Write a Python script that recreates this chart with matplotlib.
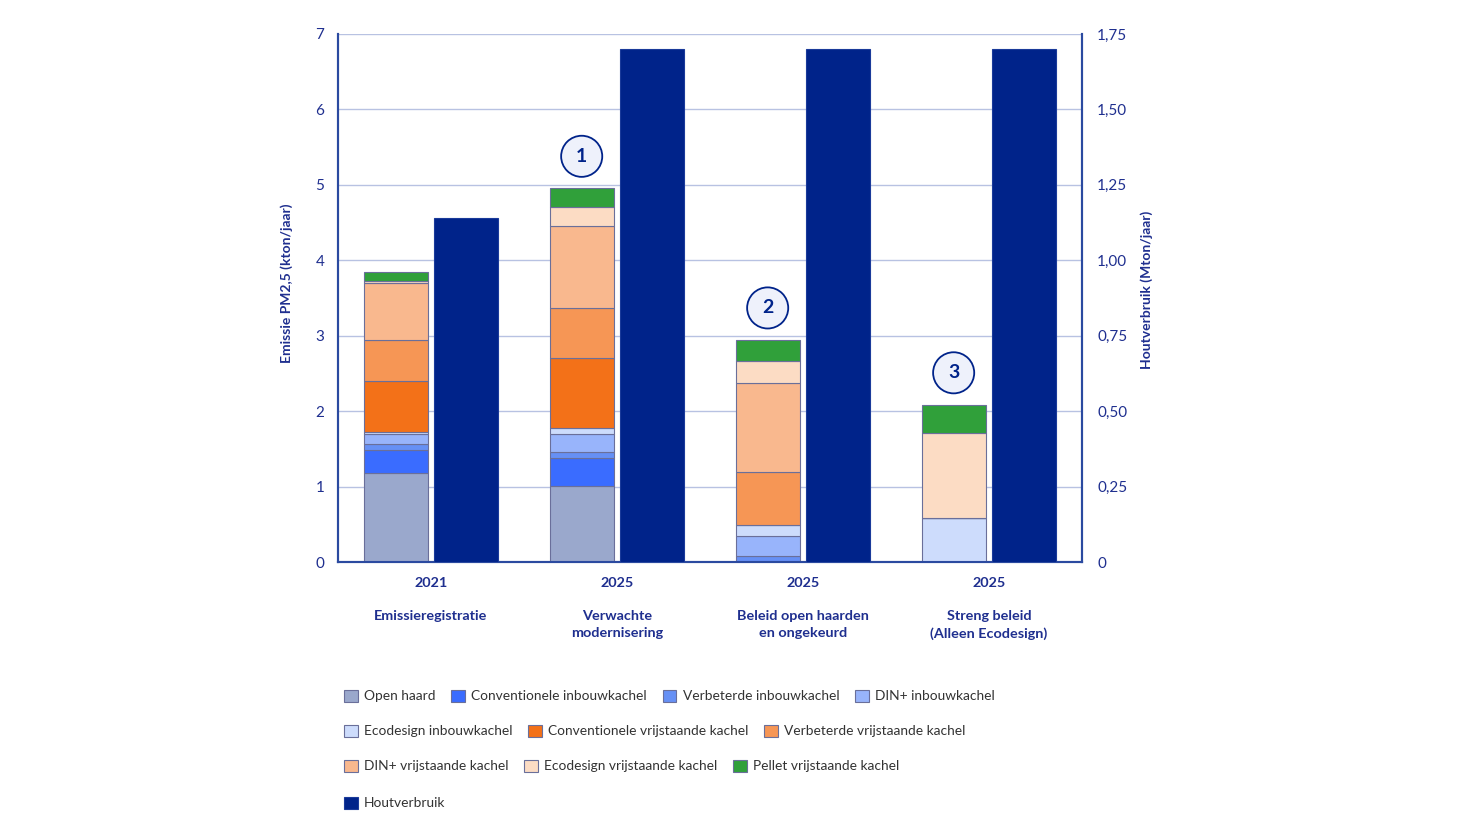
import numpy as np
import matplotlib.pyplot as plt

# scenario labels
years = ["2021", "2025", "2025", "2025"]
scenarios = ["Emissieregistratie", "Verwachte\nmodernisering",
             "Beleid open haarden\nen ongekeurd", "Streng beleid\n(Alleen Ecodesign)"]

# PM2,5 emissions per stove type (kton/jaar)
open_haard = [1.18, 1.01, 0.0, 0.0]
conv_inbouw = [0.31, 0.37, 0.0, 0.0]
verb_inbouw = [0.07, 0.075, 0.08, 0.0]
din_inbouw = [0.14, 0.24, 0.26, 0.0]
eco_inbouw = [0.02, 0.08, 0.145, 0.58]
conv_vrij = [0.68, 0.93, 0.0, 0.0]
verb_vrij = [0.54, 0.66, 0.71, 0.0]
din_vrij = [0.76, 1.09, 1.18, 0.0]
eco_vrij = [0.02, 0.25, 0.29, 1.125]
pellet_vrij = [0.12, 0.25, 0.28, 0.38]

# wood consumption (Mton/jaar)
houtverbruik = [1.14, 1.70, 1.70, 1.70]

markers = [None, "1", "2", "3"]

series = [
    ("Open haard", open_haard, "#9aa8cc"),
    ("Conventionele inbouwkachel", conv_inbouw, "#3a6cff"),
    ("Verbeterde inbouwkachel", verb_inbouw, "#6690f5"),
    ("DIN+ inbouwkachel", din_inbouw, "#98b4fb"),
    ("Ecodesign inbouwkachel", eco_inbouw, "#cddcfc"),
    ("Conventionele vrijstaande kachel", conv_vrij, "#f37118"),
    ("Verbeterde vrijstaande kachel", verb_vrij, "#f69655"),
    ("DIN+ vrijstaande kachel", din_vrij, "#f9b88e"),
    ("Ecodesign vrijstaande kachel", eco_vrij, "#fcdcc4"),
    ("Pellet vrijstaande kachel", pellet_vrij, "#30a03a"),
]

navy = "#00238a"
txt = "#1f2f8f"
spine_c = "#2b4aa0"
grid_c = "#b8c2e2"

plt.rcParams['font.family'] = ['Lato', 'DejaVu Sans']

fig = plt.figure(figsize=(14.84, 8.35), dpi=100)
ax = fig.add_axes([0.2278, 0.3269, 0.5013, 0.6324])
ax2 = ax.twinx()

x = np.arange(len(years))
w = 0.345
off = 0.19

bottom = np.zeros(len(years))
handles = []
for name, vals, col in series:
    h = ax.bar(x - off, vals, w, bottom=bottom, color=col, edgecolor="#6a6f9a",
               linewidth=0.8, label=name, zorder=3)
    handles.append(h)
    bottom += np.array(vals)

hh = ax2.bar(x + off, houtverbruik, w, color=navy, edgecolor="#1a3a9a",
             linewidth=0.8, label="Houtverbruik", zorder=3)
handles.append(hh)

for i, m in enumerate(markers):
    if m is None:
        continue
    ax.annotate(m, xy=(x[i] - off, bottom[i]), xytext=(0, 23), textcoords="offset points",
                ha="center", va="center", fontsize=14, fontweight="bold", color=navy,
                bbox=dict(boxstyle="circle,pad=0.62", fc="#eef1fb", ec=navy, lw=1.3),
                zorder=5)

ax.set_xlim(-0.5, 3.5)
ax.set_ylim(0, 7)
ax2.set_ylim(0, 1.75)
ax.set_yticks(range(8))
ax2.set_yticks(np.arange(0, 1.76, 0.25))
ax2.set_yticklabels(["0"] + [f"{v:.2f}".replace(".", ",") for v in np.arange(0.25, 1.76, 0.25)])

ax.set_xticks(x)
ax.set_xticklabels([f"{y}\n\n{s}" for y, s in zip(years, scenarios)],
                   fontsize=10.4, fontweight="bold", color=txt, linespacing=1.45)

ax.grid(axis="y", color=grid_c, lw=1, zorder=0)
ax.set_axisbelow(True)

for a in (ax, ax2):
    a.tick_params(axis="y", length=0, labelsize=11, labelcolor=txt)
    a.tick_params(axis="x", length=0, pad=11)
    for s in ("left", "right", "bottom"):
        a.spines[s].set_color(spine_c)
        a.spines[s].set_linewidth(1.5)
    a.spines["top"].set_visible(False)
ax.tick_params(axis="y", pad=10)
ax2.tick_params(axis="y", pad=11)

ax.set_ylabel("Emissie PM2,5 (kton/jaar)", fontsize=10, fontweight="bold", color=txt)
ax2.set_ylabel("Houtverbruik (Mton/jaar)", fontsize=10, fontweight="bold", color=txt)
ax.yaxis.set_label_coords(-0.0605, 0.528)
ax2.yaxis.set_label_coords(1.078, 0.515)

# legend rows, flowing like the original
rows = [handles[0:4], handles[4:7], handles[7:10], handles[10:11]]
row_y = [696, 731, 766, 803]
for hs, yy in zip(rows, row_y):
    leg = fig.legend(handles=hs, labels=[h.get_label() for h in hs], loc="center left",
                     bbox_to_anchor=(344 / 1484, 1 - yy / 835), ncol=len(hs), frameon=False,
                     fontsize=9.9, handlelength=1.0, handleheight=1.0, handletextpad=0.45,
                     columnspacing=1.15, borderaxespad=0, borderpad=0)
    for t in leg.get_texts():
        t.set_color("#333333")

fig.savefig("out.png", dpi=100)
